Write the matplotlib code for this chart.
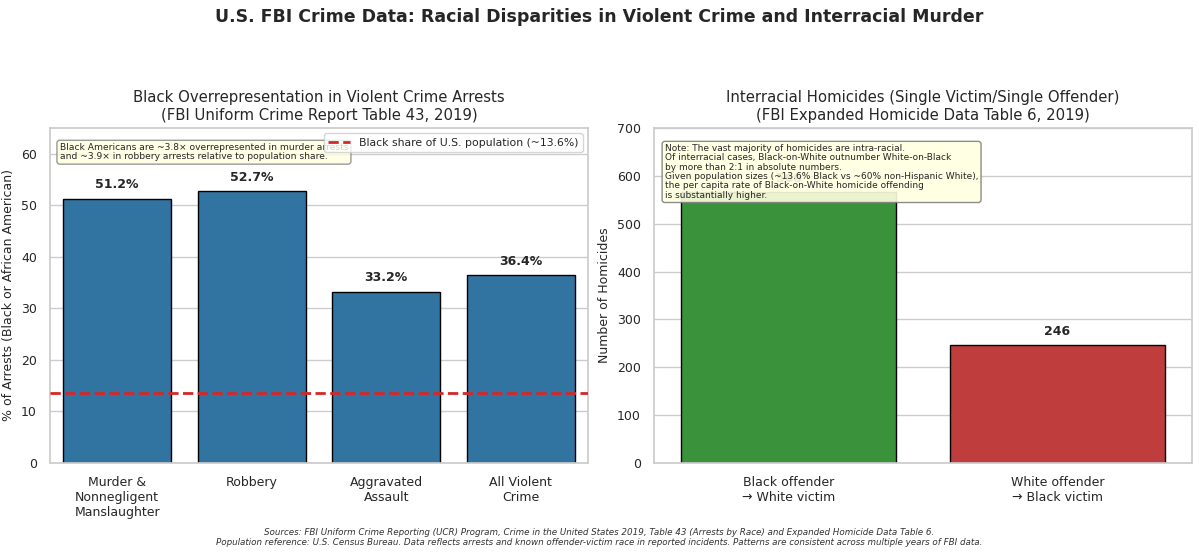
import numpy as np
import matplotlib
matplotlib.use("Agg")
import matplotlib.pyplot as plt
import seaborn as sns

sns.set_theme(style="whitegrid")
plt.rcParams['font.family'] = ['DejaVu Sans']

# ---- data ----
crime_cats = ["Murder &\nNonnegligent\nManslaughter", "Robbery",
              "Aggravated\nAssault", "All Violent\nCrime"]
black_share_arrests = [51.2, 52.7, 33.2, 36.4]
pop_share = 13.6

homicide_cats = ["Black offender\n\u2192 White victim", "White offender\n\u2192 Black victim"]
homicide_counts = [566, 246]

fig = plt.figure(figsize=(11.99, 5.54), dpi=100)
fig.suptitle("U.S. FBI Crime Data: Racial Disparities in Violent Crime and Interracial Murder",
             fontsize=12.5, fontweight="bold", y=0.985)

ax1 = fig.add_axes([0.0417, 0.1643, 0.4487, 0.6047])
ax2 = fig.add_axes([0.5455, 0.1643, 0.4487, 0.6047])

# left panel
x1 = np.arange(len(crime_cats))
ax1.bar(x1, black_share_arrests, width=0.8, color="#3274a1", edgecolor="black", linewidth=1, zorder=2)
ax1.axhline(pop_share, color="#d62728", ls="--", lw=2, label="Black share of U.S. population (~13.6%)", zorder=3)
for xi, v in zip(x1, black_share_arrests):
    ax1.text(xi, v + 1.5, f"{v}%", ha="center", va="bottom", fontsize=9, fontweight="bold")
ax1.set_xticks(x1)
ax1.set_xticklabels(crime_cats, fontsize=9)
ax1.set_xlim(-0.5, 3.5)
ax1.set_ylim(0, 65)
ax1.set_yticks(range(0, 61, 10))
ax1.tick_params(axis="y", labelsize=9)
ax1.set_ylabel("% of Arrests (Black or African American)", fontsize=9)
ax1.set_title("Black Overrepresentation in Violent Crime Arrests\n(FBI Uniform Crime Report Table 43, 2019)",
              fontsize=10.7, pad=6)
leg = ax1.legend(loc="upper right", fontsize=7.8, frameon=True, handlelength=2, borderpad=0.4)
leg.set_zorder(6)
ax1.text(0.018, 0.955, "Black Americans are ~3.8\u00d7 overrepresented in murder arrests\n"
         "and ~3.9\u00d7 in robbery arrests relative to population share.",
         transform=ax1.transAxes, fontsize=6.6, va="top", ha="left", linespacing=1.05,
         bbox=dict(boxstyle="round,pad=0.3", facecolor="lightyellow", edgecolor="gray", alpha=0.8), zorder=3)
ax1.grid(axis="x", visible=False)

# right panel
x2 = np.arange(len(homicide_cats))
bar_cols = ["#3a923a", "#c03d3e"]
ax2.bar(x2, homicide_counts, width=0.8, color=bar_cols, edgecolor="black", linewidth=1, zorder=2)
for xi, v in zip(x2, homicide_counts):
    ax2.text(xi, v + 15, f"{v}", ha="center", va="bottom", fontsize=9, fontweight="bold", zorder=3)
ax2.set_xticks(x2)
ax2.set_xticklabels(homicide_cats, fontsize=9)
ax2.set_xlim(-0.5, 1.5)
ax2.set_ylim(0, 700)
ax2.tick_params(axis="y", labelsize=9)
ax2.set_ylabel("Number of Homicides", fontsize=9)
ax2.set_title("Interracial Homicides (Single Victim/Single Offender)\n(FBI Expanded Homicide Data Table 6, 2019)",
              fontsize=10.7, pad=6)
ax2.text(0.02, 0.952, "Note: The vast majority of homicides are intra-racial.\n"
         "Of interracial cases, Black-on-White outnumber White-on-Black\n"
         "by more than 2:1 in absolute numbers.\n"
         "Given population sizes (~13.6% Black vs ~60% non-Hispanic White),\n"
         "the per capita rate of Black-on-White homicide offending\n"
         "is substantially higher.",
         transform=ax2.transAxes, fontsize=6.5, va="top", ha="left", linespacing=1.05,
         bbox=dict(boxstyle="round,pad=0.3", facecolor="lightyellow", edgecolor="gray", alpha=0.9), zorder=5)
ax2.grid(axis="x", visible=False)

for ax in (ax1, ax2):
    for s in ax.spines.values():
        s.set_color("#cccccc")

fig.text(0.5, 0.012,
         "Sources: FBI Uniform Crime Reporting (UCR) Program, Crime in the United States 2019, Table 43 (Arrests by Race) and Expanded Homicide Data Table 6.\n"
         "Population reference: U.S. Census Bureau. Data reflects arrests and known offender-victim race in reported incidents. Patterns are consistent across multiple years of FBI data.",
         ha="center", va="bottom", fontsize=6.3, style="italic", color="#333333")

fig.savefig("out.png", dpi=100)
